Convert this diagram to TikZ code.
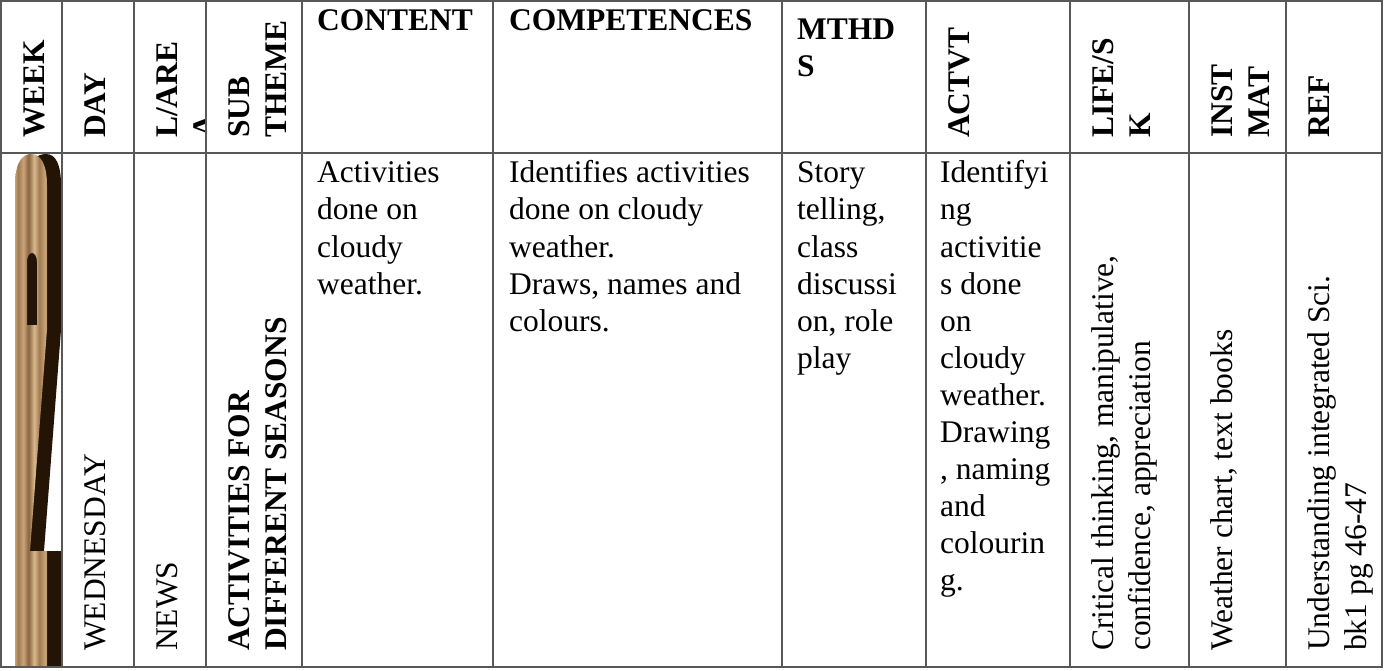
\documentclass[tikz,border=0pt]{standalone}
\usepackage{fontspec}
\setmainfont{Liberation Serif}[BoldFont={Liberation Serif Bold}]
\newcommand\tabfont{\fontsize{31.5}{37}\selectfont}
\definecolor{gridc}{HTML}{585858}
\definecolor{woodA}{HTML}{C9A47A}
\definecolor{woodB}{HTML}{A27A50}
\definecolor{woodC}{HTML}{D8B88E}
\definecolor{woodD}{HTML}{8A6440}
\definecolor{woodshadow}{HTML}{231405}
\pgfdeclarehorizontalshading{woodgrain}{100bp}{%
  color(0bp)=(woodB); color(8bp)=(woodA); color(14bp)=(woodD);
  color(22bp)=(woodC); color(30bp)=(woodB); color(38bp)=(woodA);
  color(46bp)=(woodD); color(55bp)=(woodC); color(63bp)=(woodB);
  color(72bp)=(woodA); color(80bp)=(woodD); color(90bp)=(woodC);
  color(100bp)=(woodB)}
\begin{document}
\begin{tikzpicture}[x=1pt,y=-1pt,
  gridline/.style={draw=gridc, line width=2pt},
  hd/.style={font=\tabfont\bfseries, inner sep=0},
  bd/.style={font=\tabfont, inner sep=0},
  vhd/.style={hd, rotate=90, anchor=base west},
  vbd/.style={bd, rotate=90, anchor=base west},
  hbd/.style={bd, anchor=base west},
  woodface/.style={shading=woodgrain},
  woodside/.style={fill=woodshadow}]
\useasboundingbox (0,0) rectangle (1384,671);
\fill[white] (0,0) rectangle (1384,671);

% big wooden numeral "2" in WEEK column (WordArt)
\path[woodside] (25,667) -- (25,185)
  .. controls (25,160) and (38,154) .. (46,154)
  .. controls (56,154) and (61,165) .. (61,185)
  -- (61,330) -- (44,551) -- (61,551) -- (61,667) -- cycle;
\path[woodface, even odd rule] (15,667) -- (15,185)
  .. controls (15,160) and (24,154) .. (31,154)
  .. controls (41,154) and (47,165) .. (47,185)
  -- (47,330) -- (30,551) -- (47,551) -- (47,667) -- cycle
  (27,325) -- (27,262) .. controls (27,250) and (37,250) .. (37,262)
  -- (37,325) -- cycle;

% header: rotated labels
\node[vhd] (hweek) at (44,138) {WEEK};
\node[vhd] (hday) at (105,138) {DAY};
\begin{scope}
  \clip (134,1) rectangle (206,153);
  \node[vhd] (hlarea1) at (177,138) {L/ARE};
  \node[vhd] (hlarea2) at (214,138) {A};
\end{scope}
\node[vhd] (hsub1) at (249,138) {SUB};
\node[vhd] (hsub2) at (286,138) {THEME};
\node[vhd] (hact) at (969,138) {ACTVT};
\node[vhd] (hlife1) at (1113,138) {LIFE/S};
\node[vhd] (hlife2) at (1150,138) {K};
\node[vhd] (hinst1) at (1232,138) {INST};
\node[vhd] (hinst2) at (1269,138) {MAT};
\node[vhd] (href) at (1329,138) {REF};

% header: horizontal labels
\node[hd, anchor=base west] (hcontent) at (317,31) {CONTENT};
\node[hd, anchor=base west] (hcomp) at (509,31) {COMPETENCES};
\node[hd, anchor=base west] (hm1) at (797,40) {MTHD};
\node[hd, anchor=base west] (hm2) at (797,77) {S};

% body: rotated
\node[vbd] (bday) at (105,651) {WEDNESDAY};
\node[vbd] (barea) at (177,651) {NEWS};
\node[vhd] (bsub1) at (249,651) {ACTIVITIES FOR};
\node[vhd] (bsub2) at (286,651) {DIFFERENT SEASONS};
\node[vbd] (blife1) at (1113,651) {Critical thinking, manipulative,};
\node[vbd] (blife2) at (1150,651) {confidence, appreciation};
\node[vbd] (binst) at (1232,651) {Weather chart, text books};
\node[vbd] (bref1) at (1329,651) {Understanding integrated Sci.};
\node[vbd] (bref2) at (1366,651) {bk1 pg 46-47};

% body: horizontal
\foreach \t [count=\i from 0] in {Activities, done on, cloudy, weather.}
  \node[hbd] (bc\i) at (317,183+37*\i) {\t};
\foreach \t [count=\i from 0] in {Identifies activities, done on cloudy, weather., {Draws, names and}, colours.}
  \node[hbd] (bp\i) at (509,183+37*\i) {\t};
\foreach \t [count=\i from 0] in {Story, {telling,}, class, discussi, {on, role}, play}
  \node[hbd] (bm\i) at (797,183+37*\i) {\t};
\foreach \t [count=\i from 0] in {Identifyi, ng, activitie, s done, on, cloudy, weather., Drawing, {, naming}, and, colourin, g.}
  \node[hbd] (ba\i) at (940,183+37*\i) {\t};

% grid
\foreach \x in {62,134,206,302,493,782,926,1070,1189,1286}
  \draw[gridline] (\x,1) -- (\x,667);
\draw[gridline] (1,153) -- (1382,153);
\draw[gridline] (1,1) rectangle (1382,667);
\end{tikzpicture}
\end{document}
